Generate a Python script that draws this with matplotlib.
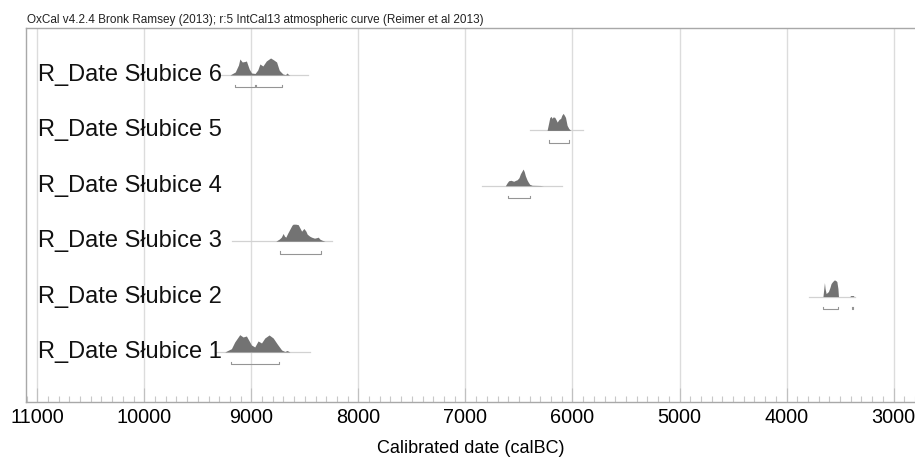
import numpy as np
import matplotlib.pyplot as plt
from matplotlib.ticker import MultipleLocator

plt.rcParams['font.family'] = ['Liberation Sans', 'DejaVu Sans']

labels = ['R_Date Słubice 1', 'R_Date Słubice 2', 'R_Date Słubice 3',
          'R_Date Słubice 4', 'R_Date Słubice 5', 'R_Date Słubice 6']

# posterior shapes: calBC years and relative density (max ~17)
s1_yr = [9248, 9186, 9155, 9108, 9077, 9046, 8999, 8968, 8937, 8905, 8874, 8834, 8796, 8758, 8717, 8687, 8666, 8640]
s1_p = [0, 3.3, 10, 17.3, 15, 16, 7, 5, 11, 9, 14, 17, 14, 8, 2, 0.5, 1.5, 0]
s2_yr = [3660, 3650, 3646, 3640, 3630, 3620, 3609, 3595, 3584, 3570, 3553, 3540, 3530, 3520, 3515, 3410, 3400, 3375, 3370]
s2_p = [0, 10, 14, 8, 3, 4, 5, 9, 13, 15, 16.7, 16, 15, 8, 0, 0, 1, 1, 0]
s3_yr = [8771, 8740, 8720, 8703, 8690, 8678, 8660, 8640, 8620, 8609, 8585, 8562, 8540, 8530, 8509, 8490, 8478, 8455, 8437, 8410, 8390, 8375, 8359, 8340, 8312]
s3_p = [0, 2, 4, 7.7, 5, 4, 8, 12, 16, 17, 17, 16.5, 12, 10, 12.7, 10, 7, 5, 4, 3, 3.5, 4, 2, 1, 0]
s4_yr = [6627, 6610, 6596, 6575, 6549, 6530, 6517, 6500, 6486, 6461, 6450, 6440, 6425, 6415, 6400, 6377, 6300, 6271]
s4_p = [0, 3, 5, 5.5, 4.5, 5.5, 6, 8, 12, 16.7, 14, 10, 6, 4, 1.5, 0.5, 0.3, 0]
s5_yr = [6237, 6225, 6212, 6200, 6190, 6180, 6165, 6150, 6143, 6125, 6110, 6100, 6087, 6075, 6065, 6050, 6035, 6018]
s5_p = [0, 6, 12.7, 14, 12, 13.5, 13, 10, 8.3, 11, 12, 15, 17, 15, 13, 5, 2, 0]
s6_yr = [9200, 9150, 9120, 9107, 9085, 9060, 9046, 9020, 8998, 8965, 8940, 8920, 8892, 8860, 8820, 8790, 8764, 8740, 8733, 8705, 8680, 8668, 8650, 8640]
s6_p = [0, 3, 10, 16, 13, 13.5, 14, 6, 2, 1.5, 5, 11, 9, 14, 17, 15, 13, 5, 4, 1, 0.3, 2, 0.3, 0]

# extent of the prior line under each distribution
span = [(9327, 8452), (3787, 3358), (9183, 8250), (6845, 6096), (6400, 5900), (9295, 8471)]
# 95.4% ranges
ranges = [[(9186, 8739)],
          [(3656, 3515), (3390, 3380)],
          [(8734, 8352)],
          [(6606, 6400)],
          [(6221, 6034)],
          [(9148, 8970), (8960, 8717)]]

years = [s1_yr, s2_yr, s3_yr, s4_yr, s5_yr, s6_yr]
probs = [s1_p, s2_p, s3_p, s4_p, s5_p, s6_p]

fig = plt.figure(figsize=(9.15, 4.63), dpi=100)
ax = fig.add_axes([26 / 915, 1 - 402 / 463, 889 / 915, 374 / 463])

scale = 1 / 55.4   # density units -> row height
for i in range(6):
    y0 = i + 1
    ax.plot(span[i], [y0, y0], color='#d2d2d2', lw=0.9, zorder=2)
    yr = np.array(years[i])
    p = np.array(probs[i]) * scale
    ax.fill_between(yr, y0, y0 + p, color='#737373', lw=0, zorder=3)
    yb = y0 - 0.225
    for a, b in ranges[i]:
        ax.plot([a, a, b, b], [yb + 0.045, yb, yb, yb + 0.045], color='#959595', lw=0.8, zorder=3)
    ax.text(10995, y0, labels[i], fontsize=17, va='center', ha='left', color='#111111')

ax.set_xlim(11105, 2800)
ax.set_ylim(0.097, 6.848)
ax.set_yticks([])
ax.xaxis.set_major_locator(MultipleLocator(1000))
ax.xaxis.set_minor_locator(MultipleLocator(100))
ax.grid(axis='x', which='major', color='#dcdcdc', lw=1, zorder=0)
ax.tick_params(axis='x', which='major', direction='in', length=10, color='#c0c0c0', labelsize=14.3, pad=4)
ax.tick_params(axis='x', which='minor', direction='in', length=4, color='#c8c8c8', width=0.8)
for side in ['top', 'left', 'bottom']:
    ax.spines[side].set_color('#a8a8a8')
    ax.spines[side].set_linewidth(1)
ax.spines['right'].set_visible(False)

ax.set_xlabel('Calibrated date (calBC)', fontsize=13, labelpad=10)
fig.text(27 / 915, 1 - 23 / 463, 'OxCal v4.2.4 Bronk Ramsey (2013); r:5 IntCal13 atmospheric curve (Reimer et al 2013)',
         fontsize=8.5, ha='left', va='baseline', color='#222222')

fig.savefig('out.png', dpi=100)
